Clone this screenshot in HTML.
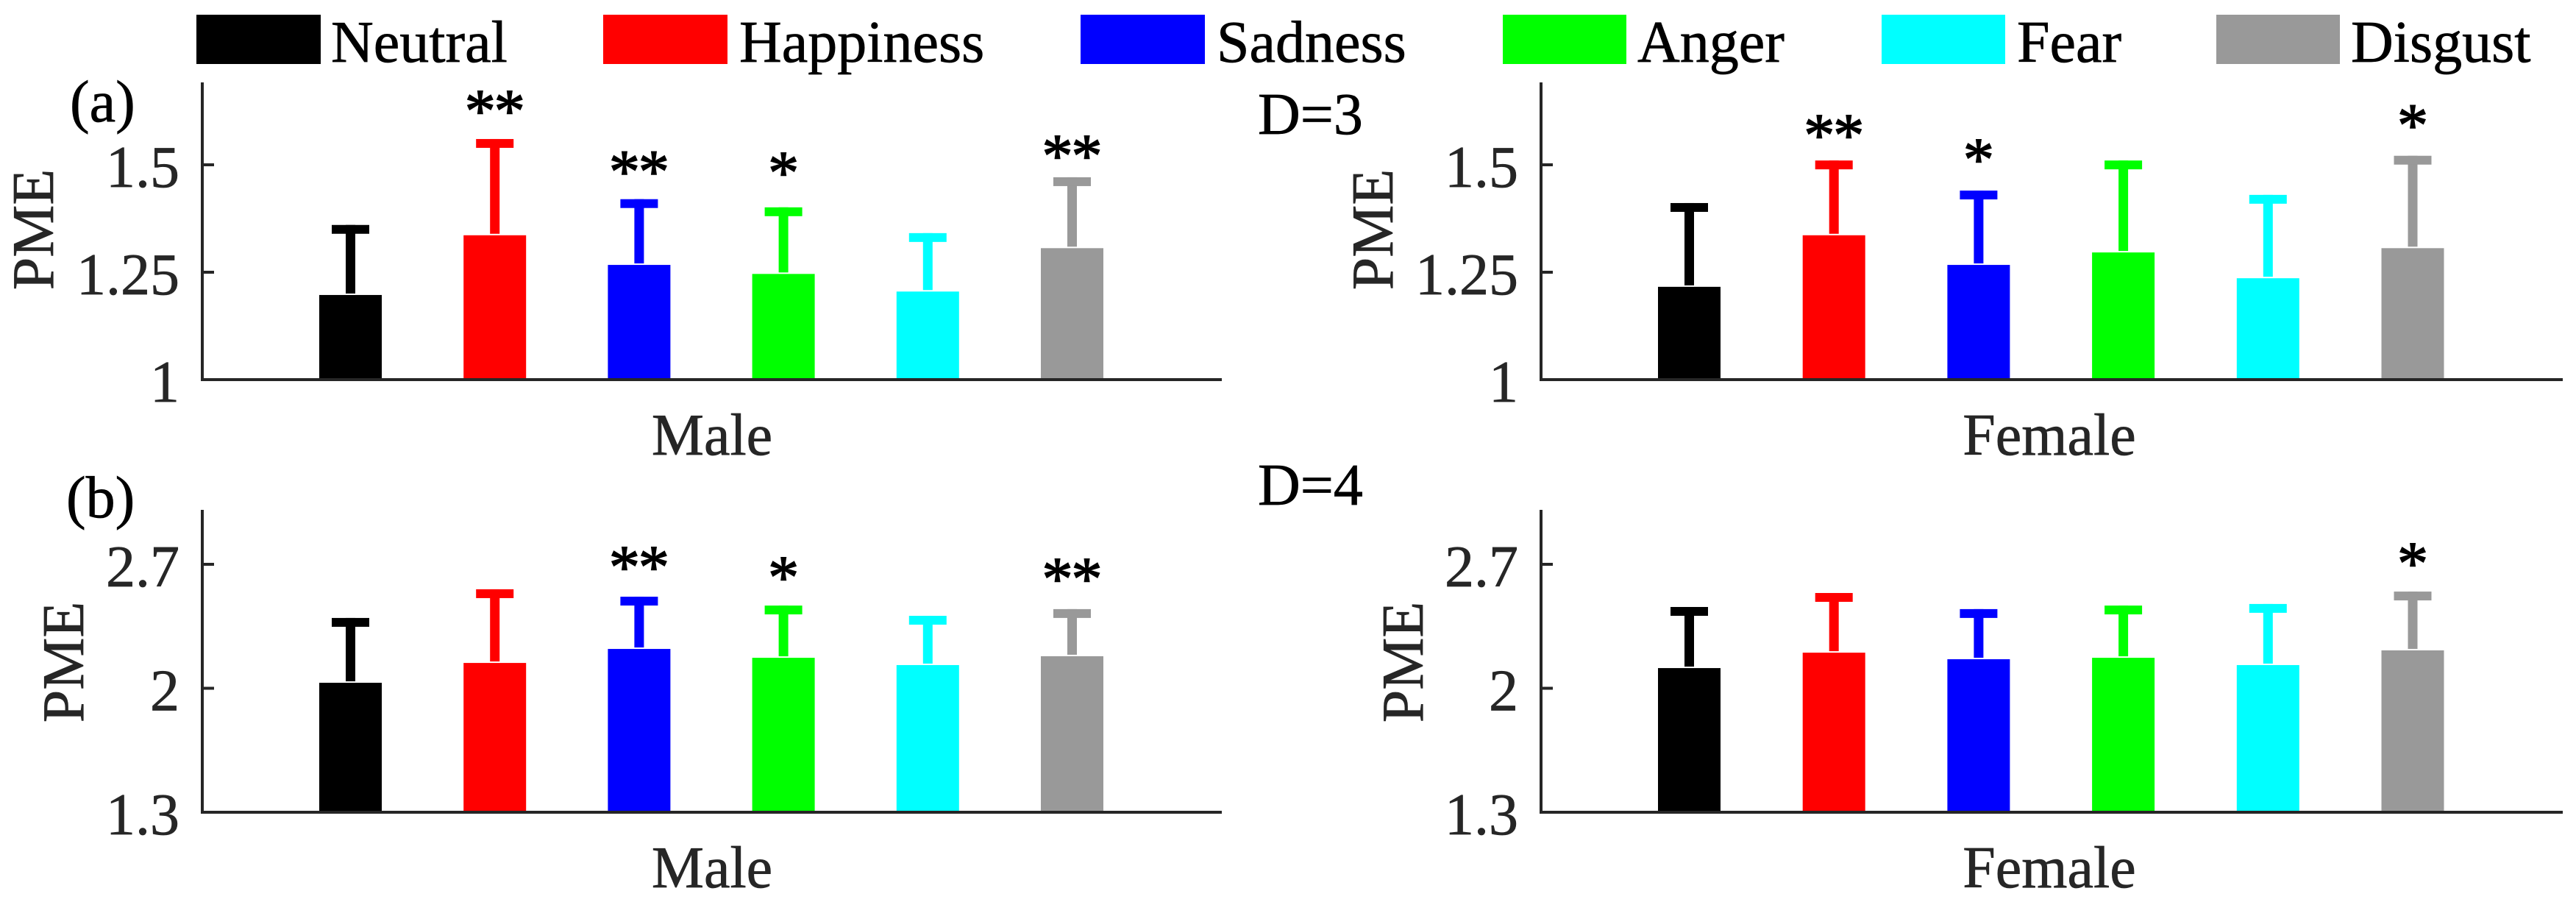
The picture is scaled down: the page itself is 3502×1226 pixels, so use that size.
<!DOCTYPE html>
<html lang="en">
<head>
<meta charset="utf-8">
<title>PME by emotion, gender and dimension</title>
<style>
  html, body { margin: 0; padding: 0; background: #fff; }
  svg { display: block; }
  text { font-family: "Liberation Serif", "Times New Roman", serif; font-size: 80px; }
  .dark { fill: #262626; stroke: #262626; stroke-width: 0.7px; }
  .ink { fill: #000; stroke: #000; stroke-width: 0.7px; }
  .star { font-size: 84px; letter-spacing: -2px; fill: #000; stroke: #000; stroke-width: 1.5px; }
</style>
</head>
<body>
<svg id="chart" xmlns="http://www.w3.org/2000/svg" width="3502" height="1226" viewBox="0 0 3502 1226">
  <rect x="0" y="0" width="3502" height="1226" fill="#ffffff"/>

  <g>
    <g>
      <rect x="267" y="20" width="169" height="67" fill="#000000"/>
      <text class="ink" x="450" y="84">Neutral</text>
    </g>
    <g>
      <rect x="820" y="20" width="169" height="67" fill="#ff0000"/>
      <text class="ink" x="1005" y="84">Happiness</text>
    </g>
    <g>
      <rect x="1469" y="20" width="169" height="67" fill="#0000ff"/>
      <text class="ink" x="1654" y="84">Sadness</text>
    </g>
    <g>
      <rect x="2043" y="20" width="168" height="67" fill="#00ff00"/>
      <text class="ink" x="2226" y="84">Anger</text>
    </g>
    <g>
      <rect x="2558" y="20" width="168" height="67" fill="#00ffff"/>
      <text class="ink" x="2742" y="84">Fear</text>
    </g>
    <g>
      <rect x="3013" y="20" width="168" height="67" fill="#999999"/>
      <text class="ink" x="3196" y="84">Disgust</text>
    </g>
  </g>

  <text class="ink" x="95" y="165">(a)</text>
  <text class="ink" x="90" y="703">(b)</text>
  <text class="ink" x="1710" y="182">D=3</text>
  <text class="ink" x="1710" y="686">D=4</text>

  <text class="dark" text-anchor="middle" transform="translate(72 312) rotate(-90)">PME</text>
  <text class="dark" text-anchor="middle" transform="translate(1893 312) rotate(-90)">PME</text>
  <text class="dark" text-anchor="middle" transform="translate(113 900) rotate(-90)">PME</text>
  <text class="dark" text-anchor="middle" transform="translate(1934 900) rotate(-90)">PME</text>

  <text class="dark" text-anchor="middle" x="968" y="618">Male</text>
  <text class="dark" text-anchor="middle" x="2786" y="618">Female</text>
  <text class="dark" text-anchor="middle" x="968" y="1206">Male</text>
  <text class="dark" text-anchor="middle" x="2786" y="1206">Female</text>
</svg>

<script>
// ---- Data ----
const categories = ['neutral', 'happiness', 'sadness', 'anger', 'fear', 'disgust'];
const seriesColors = ['#000000', '#ff0000', '#0000ff', '#00ff00', '#00ffff', '#999999'];

const d3Ticks = [1, 1.25, 1.5];
const d3TickLabels = ['1', '1.25', '1.5'];
const d4Ticks = [1.3, 2, 2.7];
const d4TickLabels = ['1.3', '2', '2.7'];

const d3MaleMeans = [1.197, 1.336, 1.267, 1.246, 1.205, 1.306];
const d3MaleErrors = [0.163, 0.224, 0.153, 0.155, 0.136, 0.165];
const d3MaleStars = ['', '**', '**', '*', '', '**'];

const d3FemaleMeans = [1.216, 1.336, 1.267, 1.296, 1.236, 1.306];
const d3FemaleErrors = [0.195, 0.174, 0.173, 0.214, 0.194, 0.215];
const d3FemaleStars = ['', '**', '*', '', '', '*'];

const d4MaleMeans = [2.031, 2.143, 2.222, 2.172, 2.131, 2.181];
const d4MaleErrors = [0.366, 0.416, 0.295, 0.295, 0.278, 0.266];
const d4MaleStars = ['', '', '**', '*', '', '**'];

const d4FemaleMeans = [2.114, 2.201, 2.164, 2.172, 2.131, 2.214];
const d4FemaleErrors = [0.345, 0.337, 0.283, 0.295, 0.345, 0.332];
const d4FemaleStars = ['', '', '', '', '', '*'];

// ---- Panel layout (pixels, separate from the data) ----
const panels = [
  { id: 'd3-male', means: d3MaleMeans, errors: d3MaleErrors, stars: d3MaleStars, ticks: d3Ticks, tickLabels: d3TickLabels,
    left: 275, right: 1661, top: 112, base: 516, tickTop: 224, step: 196.2, starShift: { 1: 1, 2: 2, 3: -8, 5: 10 } },
  { id: 'd3-female', means: d3FemaleMeans, errors: d3FemaleErrors, stars: d3FemaleStars, ticks: d3Ticks, tickLabels: d3TickLabels,
    left: 2095, right: 3484, top: 112, base: 516, tickTop: 224, step: 196.7, starShift: { 1: 5, 2: -3, 5: -2 } },
  { id: 'd4-male', means: d4MaleMeans, errors: d4MaleErrors, stars: d4MaleStars, ticks: d4Ticks, tickLabels: d4TickLabels,
    left: 275, right: 1661, top: 693, base: 1104, tickTop: 767, step: 196.2, starShift: { 2: -1, 3: 1, 5: -2 } },
  { id: 'd4-female', means: d4FemaleMeans, errors: d4FemaleErrors, stars: d4FemaleStars, ticks: d4Ticks, tickLabels: d4TickLabels,
    left: 2095, right: 3484, top: 693, base: 1104, tickTop: 767, step: 196.7, starShift: { 5: 1 } }
];

const NS = 'http://www.w3.org/2000/svg';
const svg = document.getElementById('chart');
const AXIS_COLOR = '#262626';
const BAR_WIDTH = 85;
const CAP_WIDTH = 51;
const CAP_HEIGHT = 12;
const STEM_WIDTH = 13;
const STEM_GAP = 2;
const FIRST_BAR_OFFSET = 201.5;
const STAR_GAP = 35;
const STAR_BASELINE_DROP = 23.5;
const STAR_X_CORRECTION = -1;

function shape(tag, attrs, parent) {
  const el = document.createElementNS(NS, tag);
  Object.keys(attrs).forEach(function (k) { el.setAttribute(k, attrs[k]); });
  parent.appendChild(el);
  return el;
}

panels.forEach(function (p) {
  const min = p.ticks[0];
  const max = p.ticks[p.ticks.length - 1];
  const yScale = function (v) { return p.base - (v - min) / (max - min) * (p.base - p.tickTop); };
  const xScale = function (i) { return p.left + FIRST_BAR_OFFSET + i * p.step; };

  const g = shape('g', {}, svg);
  
  

  categories.forEach(function (cat, i) {
    const color = seriesColors[i];
    const cx = xScale(i);
    const barTop = yScale(p.means[i]);
    const capTop = yScale(p.means[i] + p.errors[i]);

    const bar = shape('rect', { x: cx - BAR_WIDTH / 2, y: barTop, width: BAR_WIDTH, height: p.base - barTop, fill: color }, g);
    
    

    const stem = shape('rect', { x: cx - STEM_WIDTH / 2, y: capTop, width: STEM_WIDTH, height: barTop - STEM_GAP - capTop, fill: color }, g);
    
    

    const cap = shape('rect', { x: cx - CAP_WIDTH / 2, y: capTop, width: CAP_WIDTH, height: CAP_HEIGHT, fill: color }, g);
    
    

    if (p.stars[i]) {
      const shift = p.starShift[i] || 0;
      const star = shape('text', { x: cx + STAR_X_CORRECTION, y: capTop - STAR_GAP + shift + STAR_BASELINE_DROP, 'text-anchor': 'middle', class: 'star' }, g);
      star.textContent = p.stars[i];
      
      
    }
  });

  const yAxis = shape('rect', { x: p.left - 2, y: p.top, width: 4, height: p.base + 2 - p.top, fill: AXIS_COLOR }, g);
  
  

  const xAxis = shape('rect', { x: p.left - 2, y: p.base - 2, width: p.right - p.left + 2, height: 4, fill: AXIS_COLOR }, g);
  
  

  p.ticks.forEach(function (t, i) {
    const y = yScale(t);
    const mark = shape('rect', { x: p.left, y: y - 2, width: 16, height: 4, fill: AXIS_COLOR }, g);
    
    

    const label = shape('text', { x: p.left - 31, y: y + 30, 'text-anchor': 'end', class: 'dark' }, g);
    label.textContent = p.tickLabels[i];
    
    
  });
});
</script>
</body>
</html>
